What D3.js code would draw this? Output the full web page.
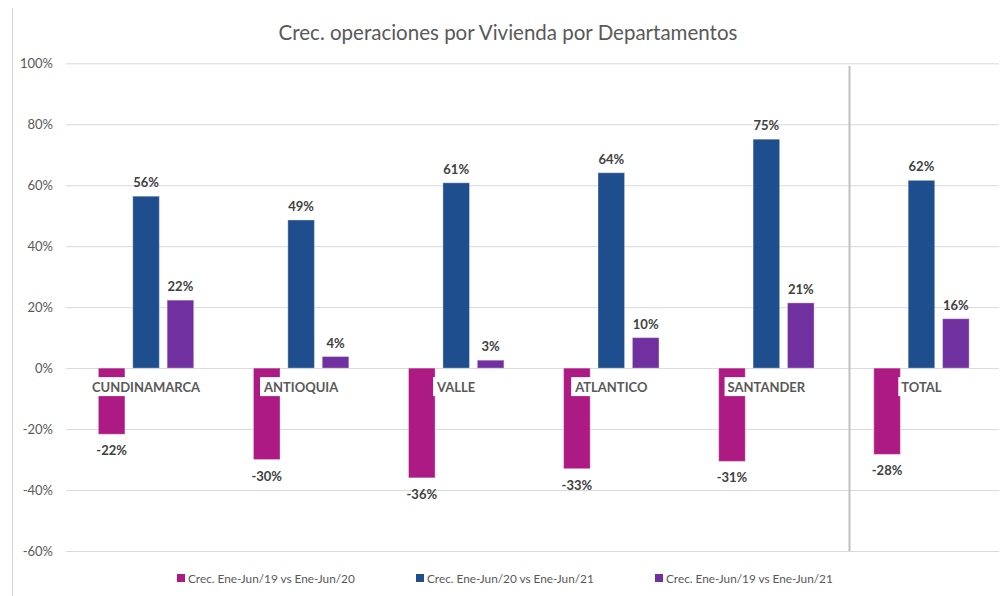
<!DOCTYPE html>
<html>
<head>
<meta charset="utf-8">
<script src="https://cdn.jsdelivr.net/npm/d3@7"></script>
<style>
  body { margin: 0; background: #fff; }
  svg { display: block; font-family: Lato, "Open Sans", sans-serif; }
</style>
</head>
<body>
<svg id="chart" width="1002" height="596"></svg>
<script>
const categories = ["CUNDINAMARCA", "ANTIOQUIA", "VALLE", "ATLANTICO", "SANTANDER", "TOTAL"];
const seriesNames = ["Crec. Ene-Jun/19 vs Ene-Jun/20", "Crec. Ene-Jun/20 vs Ene-Jun/21", "Crec. Ene-Jun/19 vs Ene-Jun/21"];
const crec19vs20 = [-21.7, -30.0, -36.0, -33.0, -30.6, -28.3];
const crec20vs21 = [56.4, 48.6, 60.8, 64.1, 75.1, 61.6];
const crec19vs21 = [22.3, 3.8, 2.6, 10.0, 21.4, 16.2];
const yTicks = [-60, -40, -20, 0, 20, 40, 60, 80, 100];
const colors = ["#AE1A84", "#1F4E8F", "#7030A0"];

const seriesValues = [crec19vs20, crec20vs21, crec19vs21];
const rows = categories.map((c, i) => ({
  cat: c,
  vals: seriesNames.map((s, j) => ({ key: s, value: seriesValues[j][i], color: colors[j] }))
}));

const svg = d3.select("#chart");
const plot = { left: 68.5, right: 999, top: 63.3, bottom: 551 };

const y = d3.scaleLinear().domain([-60, 100]).range([plot.bottom, plot.top]);
const x0 = d3.scaleBand().domain(categories).range([plot.left, plot.right])
  .paddingInner(0.385).paddingOuter(0.1925);
const x1 = d3.scaleBand().domain(seriesNames).range([0, x0.bandwidth()])
  .paddingInner(0.227).paddingOuter(0);

// chart border (left edge only visible)
svg.append("line")
  .attr("x1", 12.5).attr("x2", 12.5).attr("y1", 8).attr("y2", 596)
  .attr("stroke", "#d9d9d9").attr("stroke-width", 1);

// title
svg.append("text")
  .attr("x", 508).attr("y", 40)
  .attr("text-anchor", "middle")
  .attr("font-size", 20.5)
  .attr("fill", "#595959")
  .text("Crec. operaciones por Vivienda por Departamentos");

// y gridlines + labels
const yAxis = d3.axisLeft(y).tickValues(yTicks)
  .tickSize(-(plot.right - 66))
  .tickFormat(d => d + "%");
const gy = svg.append("g")
  .attr("transform", `translate(66,0)`)
  .call(yAxis);
gy.select(".domain").remove();
gy.selectAll(".tick line").attr("stroke", "#d9d9d9").attr("stroke-width", 1);
gy.selectAll(".tick text")
  .attr("x", -13)
  .attr("font-size", 13)
  .attr("font-family", "Lato, sans-serif")
  .attr("fill", "#595959");

// separator before TOTAL
svg.append("line")
  .attr("x1", 849.5).attr("x2", 849.5)
  .attr("y1", 66).attr("y2", plot.bottom)
  .attr("stroke", "#bfbfbf").attr("stroke-width", 2);

// bars
const groups = svg.append("g").selectAll("g")
  .data(rows).join("g")
  .attr("transform", d => `translate(${x0(d.cat)},0)`);

groups.selectAll("rect")
  .data(d => d.vals).join("rect")
  .attr("x", d => x1(d.key))
  .attr("width", x1.bandwidth())
  .attr("y", d => y(Math.max(0, d.value)))
  .attr("height", d => Math.abs(y(d.value) - y(0)))
  .attr("fill", d => d.color)
  .attr("stroke", "#ffffff").attr("stroke-opacity", 0.35).attr("stroke-width", 1);

// value labels
groups.selectAll("text.val")
  .data(d => d.vals).join("text")
  .attr("class", "val")
  .attr("x", d => x1(d.key) + x1.bandwidth() / 2)
  .attr("y", d => d.value >= 0 ? y(d.value) - 9 : y(d.value) + 21)
  .attr("text-anchor", "middle")
  .attr("font-size", 13)
  .attr("font-weight", "bold")
  .attr("fill", "#404040")
  .text(d => Math.round(d.value) + "%");

// category labels with white box
const catLabels = svg.append("g").selectAll("g")
  .data(categories).join("g");
catLabels.each(function (c) {
  const g = d3.select(this);
  const cx = x0(c) + x0.bandwidth() / 2;
  const t = g.append("text")
    .attr("x", cx).attr("y", y(0) + 24)
    .attr("text-anchor", "middle")
    .attr("font-size", 13)
    .attr("font-weight", "bold")
    .attr("fill", "#595959")
    .text(c);
  const bb = t.node().getBBox();
  g.insert("rect", "text")
    .attr("x", bb.x - 3).attr("width", bb.width + 6)
    .attr("y", y(0) + 9).attr("height", 19)
    .attr("fill", "#ffffff");
});

// legend
const legendX = [177, 416, 655];
const legend = svg.append("g").selectAll("g")
  .data(seriesNames).join("g")
  .attr("transform", (d, i) => `translate(${legendX[i]},578)`);
legend.append("rect")
  .attr("x", 0).attr("y", -4).attr("width", 8).attr("height", 8)
  .attr("fill", (d, i) => colors[i]);
legend.append("text")
  .attr("x", 11).attr("y", 4.5)
  .attr("font-size", 11.8)
  .attr("fill", "#595959")
  .text(d => d);
</script>
</body>
</html>
